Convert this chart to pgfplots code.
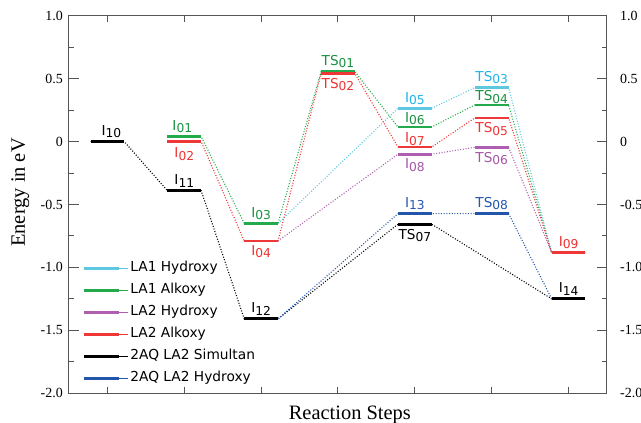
\documentclass[border=0pt]{standalone}
\usepackage{pgfplots}
\pgfplotsset{compat=1.18}
\usepackage{pgfplotstable}
\usepackage{fontspec}
\setmainfont{Liberation Serif}
\newfontfamily\dejavu{DejaVu Sans}
\definecolor{cyL}{RGB}{95,200,225}
\definecolor{cyT}{RGB}{30,180,235}
\definecolor{grL}{RGB}{35,170,75}
\definecolor{grT}{RGB}{25,145,65}
\definecolor{puL}{RGB}{175,95,175}
\definecolor{puT}{RGB}{165,85,165}
\definecolor{reL}{RGB}{240,55,55}
\definecolor{reT}{RGB}{240,50,50}
\definecolor{blL}{RGB}{35,85,170}
\definecolor{blT}{RGB}{35,85,175}
\definecolor{axg}{RGB}{85,85,85}
\newcommand\lv[2]{#1\raisebox{-2.3bp}{\fontsize{12.3}{14}\selectfont#2}}

\pgfplotstableread{
x E
3.22 -0.65
nan nan
4.78 0.266
5.22 0.266
nan nan
5.78 0.43
6.22 0.43
nan nan
6.78 -0.883
}\cyanT
\pgfplotstableread{
x E
1.78 0.04
2.22 0.04
nan nan
2.78 -0.65
3.22 -0.65
nan nan
3.78 0.557
4.22 0.557
nan nan
4.78 0.117
5.22 0.117
nan nan
5.78 0.292
6.22 0.292
nan nan
6.78 -0.883
}\greenT
\pgfplotstableread{
x E
3.22 -0.79
nan nan
4.78 -0.10
5.22 -0.10
nan nan
5.78 -0.045
6.22 -0.045
nan nan
6.78 -0.883
}\purpleT
\pgfplotstableread{
x E
1.78 0
2.22 0
nan nan
2.78 -0.79
3.22 -0.79
nan nan
3.78 0.541
4.22 0.541
nan nan
4.78 -0.042
5.22 -0.042
nan nan
5.78 0.189
6.22 0.189
nan nan
6.78 -0.883
7.22 -0.883
}\redT
\pgfplotstableread{
x E
0.78 0
1.22 0
nan nan
1.78 -0.39
2.22 -0.39
nan nan
2.78 -1.41
3.22 -1.41
nan nan
4.78 -0.657
5.22 -0.657
nan nan
6.78 -1.251
7.22 -1.251
}\blackT
\pgfplotstableread{
x E
3.22 -1.41
nan nan
4.78 -0.573
5.22 -0.573
nan nan
5.78 -0.573
6.22 -0.573
nan nan
6.78 -1.251
}\blueT

\begin{document}
\begin{tikzpicture}[
  conn/.style={dash pattern=on 1bp off 1.7bp, line width=1.1bp},
  lev/.style={line width=2.8bp},
  lab/.style={inner sep=0pt, font=\dejavu\fontsize{13.7}{16}\selectfont},
  up/.style={lab, anchor=south, yshift=3.4bp},
  dn/.style={lab, anchor=north, yshift=-4.5bp}]
\useasboundingbox (-69bp,-30bp) rectangle (572bp,393bp);
\begin{axis}[
  scale only axis, width=538bp, height=377bp,
  xmin=0.5, xmax=7.5, ymin=-2, ymax=1,
  xtick={1,2,3,4,5,6,7}, xticklabels={},
  ytick={-2,-1.5,-1,-0.5,0,0.5,1},
  yticklabels={-2.0,-1.5,-1.0,-0.5,0,0.5,1.0},
  minor ytick={-1.75,-1.25,-0.75,-0.25,0.25,0.75},
  tick align=inside, xtick pos=both, ytick pos=both, yticklabel pos=left,
  major tick length=10bp, minor tick length=5bp,
  xtick style={/pgfplots/major tick length=6bp},
  every tick/.style={axg, line width=1bp},
  axis line style={axg, line width=1bp},
  yticklabel style={anchor=east, inner sep=0pt, xshift=-6bp, font=\fontsize{14}{16}\selectfont},
  xlabel={Reaction Steps}, ylabel={Energy in eV},
  xlabel style={at={(axis description cs:0.522,-0.0716)}, anchor=base, font=\fontsize{20.5}{24}\selectfont},
  ylabel style={at={(axis description cs:-0.0818,0.532)}, anchor=base, rotate=0, font=\fontsize{20.5}{24}\selectfont},
  legend style={draw=none, fill=none, at={(axis description cs:0.0251,0.355)}, anchor=north west, inner sep=0pt,
    font=\dejavu\fontsize{13.8}{16}\selectfont, row sep=4.5bp,
    nodes={inner sep=2bp, text height=10bp, text depth=3.5bp}},
  legend cell align=left,
  legend image code/.code={\draw[#1, line width=3bp] (0bp,0bp) -- (35bp,0bp); \path (0bp,0bp) -- (44bp,0bp);},
]
\addlegendimage{cyL}\addlegendentry{LA1 Hydroxy}
\addlegendimage{grL}\addlegendentry{LA1 Alkoxy}
\addlegendimage{puL}\addlegendentry{LA2 Hydroxy}
\addlegendimage{reL}\addlegendentry{LA2 Alkoxy}
\addlegendimage{black}\addlegendentry{2AQ LA2 Simultan}
\addlegendimage{blL}\addlegendentry{2AQ LA2 Hydroxy}

\addplot[cyL, conn, unbounded coords=discard, forget plot] table {\cyanT};
\addplot[grL, conn, unbounded coords=discard, forget plot] table {\greenT};
\addplot[puL, conn, unbounded coords=discard, forget plot] table {\purpleT};
\addplot[reL, conn, unbounded coords=discard, forget plot] table {\redT};
\addplot[black, conn, unbounded coords=discard, forget plot] table {\blackT};
\addplot[blL, conn, unbounded coords=discard, forget plot] table {\blueT};

\addplot[cyL, lev, unbounded coords=jump, forget plot] table {\cyanT};
\addplot[grL, lev, unbounded coords=jump, forget plot] table {\greenT};
\addplot[puL, lev, unbounded coords=jump, forget plot] table {\purpleT};
\addplot[reL, lev, unbounded coords=jump, forget plot] table {\redT};
\addplot[black, lev, unbounded coords=jump, forget plot] table {\blackT};
\addplot[blL, lev, unbounded coords=jump, forget plot] table {\blueT};

\node[up, xshift=4bp] at (axis cs:1,0) {\lv{I}{10}};
\node[up, text=grT, xshift=-2bp] at (axis cs:2,0.04) {\lv{I}{01}};
\node[dn, text=reT, yshift=-1.5bp] at (axis cs:2,0) {\lv{I}{02}};
\node[up] at (axis cs:2,-0.39) {\lv{I}{11}};
\node[up, text=grT] at (axis cs:3,-0.65) {\lv{I}{03}};
\node[dn, text=reT] at (axis cs:3,-0.79) {\lv{I}{04}};
\node[up] at (axis cs:3,-1.41) {\lv{I}{12}};
\node[up, text=grT] at (axis cs:4,0.557) {\lv{TS}{01}};
\node[dn, text=reT] at (axis cs:4,0.541) {\lv{TS}{02}};
\node[up, text=cyT] at (axis cs:5,0.266) {\lv{I}{05}};
\node[up, text=grT, yshift=-1.8bp] at (axis cs:5,0.117) {\lv{I}{06}};
\node[up, text=reT, yshift=-2bp] at (axis cs:5,-0.042) {\lv{I}{07}};
\node[dn, text=puT] at (axis cs:5,-0.10) {\lv{I}{08}};
\node[up, text=blT] at (axis cs:5,-0.573) {\lv{I}{13}};
\node[dn] at (axis cs:5,-0.657) {\lv{TS}{07}};
\node[up, text=cyT] at (axis cs:6,0.43) {\lv{TS}{03}};
\node[up, text=grT, yshift=-2bp] at (axis cs:6,0.292) {\lv{TS}{04}};
\node[dn, text=reT] at (axis cs:6,0.189) {\lv{TS}{05}};
\node[dn, text=puT] at (axis cs:6,-0.045) {\lv{TS}{06}};
\node[up, text=blT] at (axis cs:6,-0.573) {\lv{TS}{08}};
\node[up, text=reT] at (axis cs:7,-0.883) {\lv{I}{09}};
\node[up] at (axis cs:7,-1.251) {\lv{I}{14}};
\end{axis}
\begin{axis}[
  scale only axis, width=538bp, height=377bp,
  xmin=0.5, xmax=7.5, ymin=-2, ymax=1,
  hide x axis, axis y line*=right,
  y axis line style={draw=none}, ytick style={draw=none},
  ytick={-2,-1.5,-1,-0.5,0,0.5,1},
  yticklabels={-2.0,-1.5,-1.0,-0.5,0,0.5,1.0},
  minor ytick={},
  yticklabel style={anchor=west, inner sep=0pt, xshift=13bp, font=\fontsize{14}{16}\selectfont},
]
\end{axis}
\end{tikzpicture}
\end{document}
